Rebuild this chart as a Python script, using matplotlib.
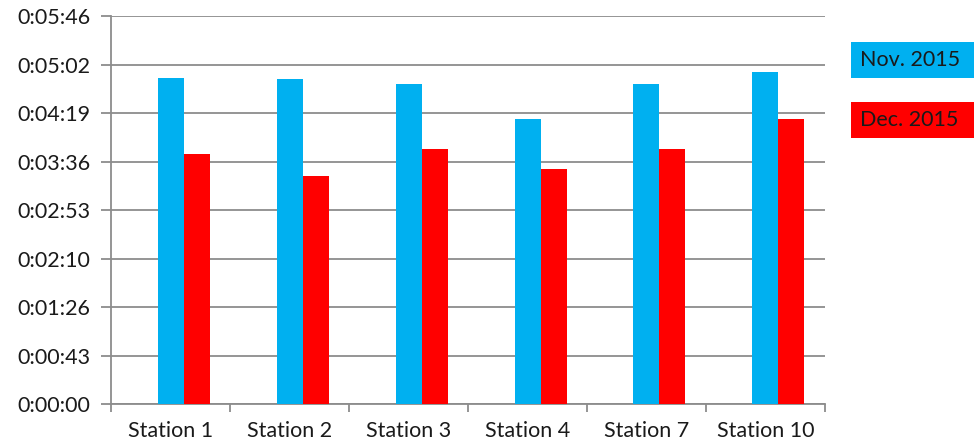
import numpy as np
import matplotlib
matplotlib.use("Agg")
import matplotlib.pyplot as plt
from matplotlib.patches import Rectangle

stations = ["Station 1", "Station 2", "Station 3", "Station 4", "Station 7", "Station 10"]
# average times in seconds
nov_2015 = [291, 290, 286, 254, 286, 296]
dec_2015 = [223, 204, 228, 210, 228, 254]
ytick_secs = [0, 43.25, 86.5, 129.75, 173, 216.25, 259.5, 302.75, 346]
ytick_labels = ["0:00:00", "0:00:43", "0:01:26", "0:02:10", "0:02:53",
                "0:03:36", "0:04:19", "0:05:02", "0:05:46"]

blue = "#00B0F0"
red = "#FF0000"
grid_col = "#8C8C8C"
text_col = "#1a1a1a"

plt.rcParams['font.family'] = ['Lato', 'DejaVu Sans']

fig = plt.figure(figsize=(9.74, 4.44), dpi=100)
ax = fig.add_axes([0.114, 0.0894, 0.733, 0.874])

x = np.arange(len(stations))
w = 0.2185
ax.bar(x, nov_2015, width=w, color=blue, zorder=3)
ax.bar(x + w, dec_2015, width=w, color=red, zorder=3)

ax.set_xlim(-0.5, len(stations) - 0.5)
ax.set_ylim(0, 346)
ax.set_yticks(ytick_secs)
ax.set_yticklabels(ytick_labels)
ax.yaxis.grid(True, color=grid_col, linewidth=1.3, zorder=0)

# category labels centred, tick marks between categories
ax.set_xticks(x)
ax.set_xticklabels(stations)
ax.set_xticks(np.arange(-0.5, len(stations)), minor=True)
ax.tick_params(axis='x', which='major', length=0, pad=12, labelsize=15.5, labelcolor=text_col)
ax.tick_params(axis='x', which='minor', length=6, width=1.3, color=grid_col, direction='out')
ax.tick_params(axis='y', length=7, width=1.3, color=grid_col, pad=8, labelsize=15.5, labelcolor=text_col)

for s in ['top', 'right']:
    ax.spines[s].set_visible(False)
for s in ['left', 'bottom']:
    ax.spines[s].set_color(grid_col)
    ax.spines[s].set_linewidth(1.3)

# legend drawn as filled boxes with the text inside
W, H = 974.0, 444.0
for top, col, label in [(42, blue, "Nov. 2015"), (102, red, "Dec. 2015")]:
    fig.patches.append(Rectangle((851 / W, 1 - (top + 36) / H), (W - 851) / W, 36 / H,
                                 transform=fig.transFigure, facecolor=col,
                                 edgecolor='none'))
    fig.text(860 / W, 1 - (top + 18) / H, label, fontsize=15.5, color=text_col,
             va='center', ha='left')

fig.savefig("out.png", dpi=100)
